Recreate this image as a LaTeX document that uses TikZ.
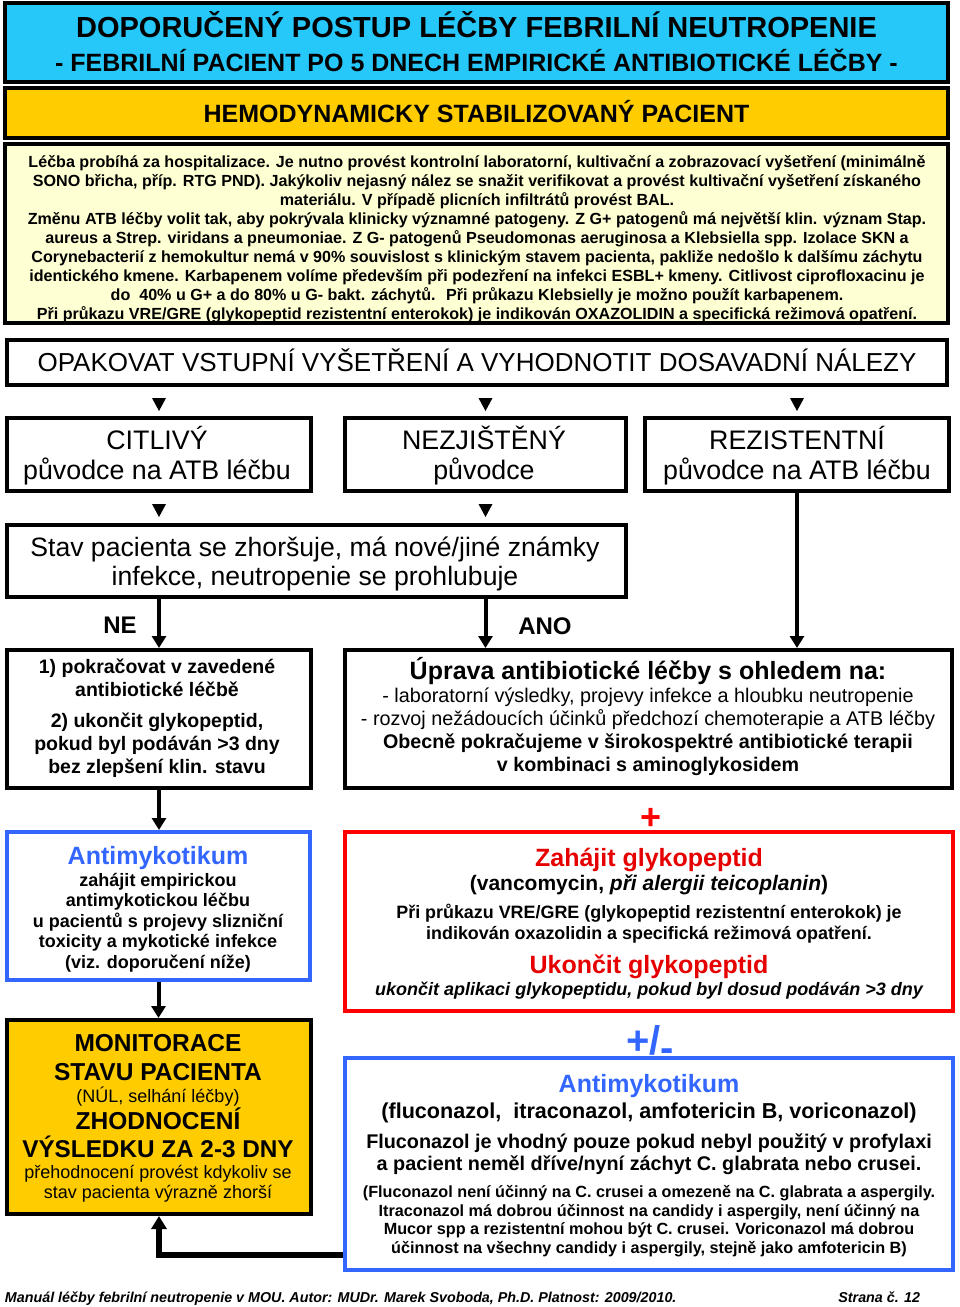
\documentclass[tikz,border=0pt]{standalone}
\usepackage{fontspec}
\setmainfont{Liberation Sans}
\usetikzlibrary{arrows.meta}
\definecolor{cyanb}{RGB}{38,200,250}
\definecolor{orng}{RGB}{255,204,0}
\definecolor{cream}{RGB}{255,255,212}
\definecolor{blu}{RGB}{51,102,255}
\definecolor{rd}{RGB}{255,0,0}
\definecolor{rdt}{RGB}{230,0,0}
\newcommand\fs[1]{\fontsize{#1}{#1}\selectfont}
\begin{document}
\begin{tikzpicture}[x=1pt,y=-1pt,
 box/.style={draw=black,line width=4pt,inner sep=0pt,rectangle},
 tx/.style={anchor=base,inner sep=0pt,outer sep=0pt},
 arr/.style={line width=4pt,-{Triangle[length=12pt,width=14pt]}},
 tri/.style={fill=black},
]
\useasboundingbox[fill=white] (0,0) rectangle (960,1307);

% ---------- header boxes
\node[box,fill=cyanb,minimum width=943pt,minimum height=79pt] (b1) at (476.5,42.5) {};
\node[tx,font=\bfseries\fs{29}] (t1a) at (476.5,37) {DOPORUČENÝ POSTUP LÉČBY FEBRILNÍ NEUTROPENIE};
\node[tx,font=\bfseries\fs{25}] (t1b) at (476.5,71) {- FEBRILNÍ PACIENT PO 5 DNECH EMPIRICKÉ ANTIBIOTICKÉ LÉČBY -};

\node[box,fill=orng,minimum width=943pt,minimum height=50pt] (b2) at (476.5,113) {};
\node[tx,font=\bfseries\fs{25}] (t2) at (476.5,122) {HEMODYNAMICKY STABILIZOVANÝ PACIENT};

\node[fill=cream,inner sep=0pt,outer sep=0pt,minimum width=943pt,minimum height=179pt] (b3) at (476.5,233.5) {};
\begin{scope}[every node/.style={tx,font=\bfseries\fs{16.1}}]
\node (c1) at (477,167) {Léčba probíhá za hospitalizace. Je nutno provést kontrolní laboratorní, kultivační a zobrazovací vyšetření (minimálně};
\node (c2) at (477,186) {SONO břicha, příp. RTG PND). Jakýkoliv nejasný nález se snažit verifikovat a provést kultivační vyšetření získaného};
\node (c3) at (477,205) {materiálu. V případě plicních infiltrátů provést BAL.};
\node (c4) at (477,224) {Změnu ATB léčby volit tak, aby pokrývala klinicky významné patogeny. Z G+ patogenů má největší klin. význam Stap.};
\node (c5) at (477,243) {aureus a Strep. viridans a pneumoniae. Z G- patogenů Pseudomonas aeruginosa a Klebsiella spp. Izolace SKN a};
\node (c6) at (477,262) {Corynebacterií z hemokultur nemá v 90\% souvislost s klinickým stavem pacienta, pakliže nedošlo k dalšímu záchytu};
\node (c7) at (477,281) {identického kmene. Karbapenem volíme především při podezření na infekci ESBL+ kmeny. Citlivost ciprofloxacinu je};
\node (c8) at (477,300) {do~ 40\% u G+ a do 80\% u G- bakt. záchytů.~ Při průkazu Klebsielly je možno použít karbapenem.};
\node (c9) at (477,319) {Při průkazu VRE/GRE (glykopeptid rezistentní enterokok) je indikován OXAZOLIDIN a specifická režimová opatření.};
\end{scope}
\draw[line width=4pt] (b3.north west) rectangle (b3.south east);

% ---------- flow
\node[box,minimum width=940pt,minimum height=45pt] (b4) at (477,362.5) {};
\node[tx,font=\fs{26}] (t4) at (477,371) {OPAKOVAT VSTUPNÍ VYŠETŘENÍ A VYHODNOTIT DOSAVADNÍ NÁLEZY};

\node[box,minimum width=304pt,minimum height=73pt] (b5a) at (159,454.5) {};
\node[box,minimum width=281pt,minimum height=73pt] (b5b) at (485.5,454.5) {};
\node[box,minimum width=304pt,minimum height=73pt] (b5c) at (797,454.5) {};
\begin{scope}[every node/.style={tx,font=\fs{26.8}}]
\node (t5a1) at (157,449.5) {CITLIVÝ};
\node (t5a2) at (157,479) {původce na ATB léčbu};
\node (t5b1) at (484,449.5) {NEZJIŠTĚNÝ};
\node (t5b2) at (484,479) {původce};
\node (t5c1) at (797,449.5) {REZISTENTNÍ};
\node (t5c2) at (797,479) {původce na ATB léčbu};
\end{scope}

\node[box,minimum width=619pt,minimum height=72pt] (b6) at (316.5,561) {};
\node[tx,font=\fs{26.6}] (t6a) at (315,556.5) {Stav pacienta se zhoršuje, má nové/jiné známky};
\node[tx,font=\fs{26.6}] (t6b) at (315,585.5) {infekce, neutropenie se prohlubuje};

% small triangles
\coordinate (p1) at (b4.south -| b5a.north);
\coordinate (p2) at (b4.south -| b5b.north);
\coordinate (p3) at (b4.south -| b5c.north);
\coordinate (p4) at (b5a.south);
\coordinate (p5) at (b5b.south);
\foreach \p in {p1,p2,p3,p4,p5}{
  \fill[tri] ([shift={(-7pt,-11pt)}]\p) -- ([shift={(7pt,-11pt)}]\p) -- ([shift={(0pt,-24pt)}]\p) -- cycle;
}

\node[box,minimum width=304pt,minimum height=138pt] (b7) at (159,719) {};
\begin{scope}[every node/.style={tx,font=\bfseries\fs{19.5}}]
\node (t7a) at (157,673) {1) pokračovat v zavedené};
\node (t7b) at (157,696) {antibiotické léčbě};
\node (t7c) at (157,727) {2) ukončit glykopeptid,};
\node (t7d) at (157,750) {pokud byl podáván >3 dny};
\node (t7e) at (157,773) {bez zlepšení klin. stavu};
\end{scope}

\node[box,minimum width=607pt,minimum height=138pt] (b8) at (648.5,719) {};
\node[tx,font=\bfseries\fs{25}] (t8a) at (648,679) {Úprava antibiotické léčby s ohledem na:};
\node[tx,font=\fs{19.8}] (t8b) at (648,702) {- laboratorní výsledky, projevy infekce a hloubku neutropenie};
\node[tx,font=\fs{19.8}] (t8c) at (648,725) {- rozvoj nežádoucích účinků předchozí chemoterapie a ATB léčby};
\node[tx,font=\bfseries\fs{19.7}] (t8d) at (648,748) {Obecně pokračujeme v širokospektré antibiotické terapii};
\node[tx,font=\bfseries\fs{19.7}] (t8e) at (648,771) {v kombinaci s aminoglykosidem};

\node[tx,font=\bfseries\fs{24}] (ne) at (120,633) {NE};
\node[tx,font=\bfseries\fs{24}] (ano) at (545,634) {ANO};

\draw[arr] (b6.south -| b7.north) -- (b7.north);
\draw[arr] (b6.south -| b5b.south) -- (b8.north -| b5b.south);
\draw[arr] (b5c.south) -- (b8.north -| b5c.south);

% ---------- lower part
\node[box,draw=blu,minimum width=303pt,minimum height=148pt] (b9) at (158.5,906) {};
\node[tx,font=\bfseries\fs{25},text=blu] (t9a) at (158,864) {Antimykotikum};
\begin{scope}[every node/.style={tx,font=\bfseries\fs{18}}]
\node (t9b) at (158,886) {zahájit empirickou};
\node (t9c) at (158,906) {antimykotickou léčbu};
\node (t9d) at (158,927) {u pacientů s projevy slizniční};
\node (t9e) at (158,947) {toxicity a mykotické infekce};
\node (t9f) at (158,968) {(viz. doporučení níže)};
\end{scope}

\node[tx,font=\bfseries\fs{36},text=rd] (plus) at (651,829) {+};

\node[box,draw=rd,minimum width=608pt,minimum height=179pt] (b10) at (649,921.5) {};
\node[tx,font=\bfseries\fs{25},text=rdt] (t10a) at (649,866) {Zahájit glykopeptid};
\node[tx,font=\bfseries\fs{21}] (t10b) at (649,890.5) {(vancomycin, \textit{při alergii teicoplanin})};
\node[tx,font=\bfseries\fs{17.9}] (t10c) at (649,918) {Při průkazu VRE/GRE (glykopeptid rezistentní enterokok) je};
\node[tx,font=\bfseries\fs{17.9}] (t10d) at (649,939) {indikován oxazolidin a specifická režimová opatření.};
\node[tx,font=\bfseries\fs{25},text=rdt] (t10e) at (649,973) {Ukončit glykopeptid};
\node[tx,font=\bfseries\itshape\fs{18}] (t10f) at (649,995) {ukončit aplikaci glykopeptidu, pokud byl dosud podáván >3 dny};

\draw[arr] (b7.south) -- (b7.south |- b9.north);

\node[box,fill=orng,minimum width=304pt,minimum height=194pt] (b11) at (159,1117) {};
\node[tx,font=\bfseries\fs{24.5}] (t11a) at (158,1051) {MONITORACE};
\node[tx,font=\bfseries\fs{24.5}] (t11b) at (158,1080) {STAVU PACIENTA};
\node[tx,font=\fs{18}] (t11c) at (158,1102.5) {(NÚL, selhání léčby)};
\node[tx,font=\bfseries\fs{24.5}] (t11d) at (158,1129) {ZHODNOCENÍ};
\node[tx,font=\bfseries\fs{24.3}] (t11e) at (158,1157) {VÝSLEDKU ZA 2-3 DNY};
\node[tx,font=\fs{18}] (t11f) at (158,1178.5) {přehodnocení provést kdykoliv se};
\node[tx,font=\fs{18}] (t11g) at (158,1198.5) {stav pacienta výrazně zhorší};

\draw[arr] (b9.south) -- (b9.south |- b11.north);

\node[tx,font=\bfseries\fs{40},text=blu] (pm) at (650,1054) {+/\raisebox{-0.18em}{-}};

\node[box,draw=blu,minimum width=608pt,minimum height=212pt] (b12) at (649,1164) {};
\node[tx,font=\bfseries\fs{25},text=blu] (t12a) at (649,1092) {Antimykotikum};
\node[tx,font=\bfseries\fs{21.6}] (t12b) at (649,1118.5) {(fluconazol,~ itraconazol, amfotericin B, voriconazol)};
\node[tx,font=\bfseries\fs{19.8}] (t12c) at (649,1148) {Fluconazol je vhodný pouze pokud nebyl použitý v profylaxi};
\node[tx,font=\bfseries\fs{19.8}] (t12d) at (649,1170) {a pacient neměl dříve/nyní záchyt C. glabrata nebo crusei.};
\begin{scope}[every node/.style={tx,font=\bfseries\fs{16.2}}]
\node (t12e) at (649,1197.5) {(Fluconazol není účinný na C. crusei a omezeně na C. glabrata a aspergily.};
\node (t12f) at (649,1216.5) {Itraconazol má dobrou účinnost na candidy i aspergily, není účinný na};
\node (t12g) at (649,1234.5) {Mucor spp a rezistentní mohou být C. crusei. Voriconazol má dobrou};
\node (t12h) at (649,1253.5) {účinnost na všechny candidy i aspergily, stejně jako amfotericin B)};
\end{scope}

\coordinate (fby) at (0,1255);
\draw[line width=6pt,-{Triangle[length=13pt,width=15pt]}] (b12.west |- fby) -| (b11.south);

% ---------- footer
\node[tx,anchor=base west,font=\bfseries\itshape\fs{14.3}] (f1) at (5,1302) {Manuál léčby febrilní neutropenie v MOU. Autor: MUDr. Marek Svoboda, Ph.D. Platnost: 2009/2010.};
\node[tx,anchor=base east,font=\bfseries\itshape\fs{14.3}] (f2) at (920,1302) {Strana č. 12};
\end{tikzpicture}
\end{document}
